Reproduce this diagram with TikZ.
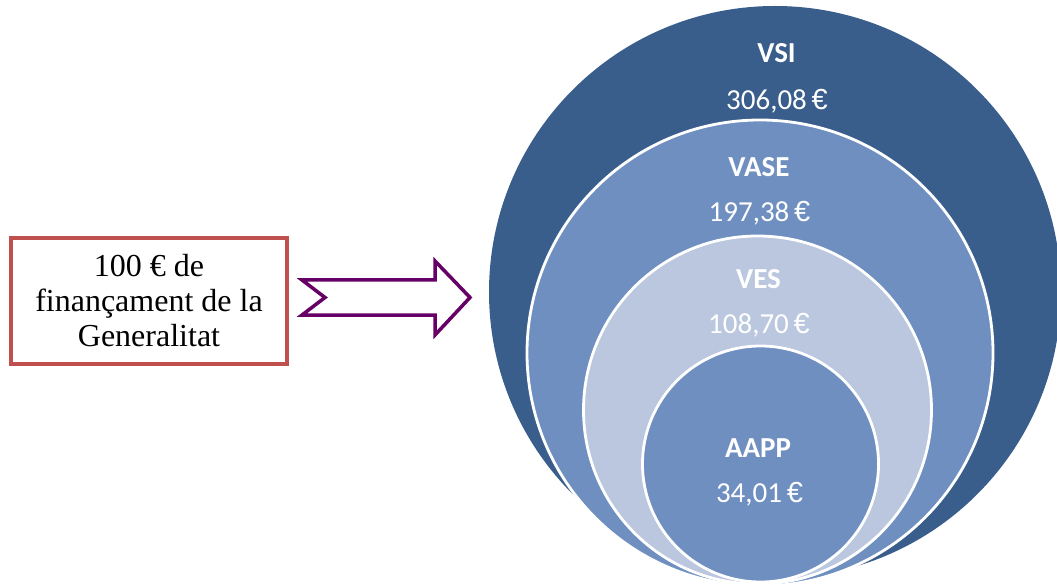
\documentclass[tikz,border=0pt]{standalone}
\usepackage{fontspec}
\setmainfont{Liberation Serif}
\newfontfamily\calibri{Carlito}
\newfontfamily\eurfont{Liberation Sans}
\newcommand\eur{{\eurfont €}}
\definecolor{vsiblue}{RGB}{58,94,140}
\definecolor{vaseblue}{RGB}{111,143,192}
\definecolor{vesblue}{RGB}{186,199,223}
\definecolor{boxred}{RGB}{192,80,77}
\definecolor{arrowpurple}{RGB}{102,0,102}

\begin{document}
\begin{tikzpicture}
  [x=1pt, y=-1pt,
   ring/.style={circle, draw=white, line width=2.8pt, inner sep=0pt},
   title/.style={font=\calibri\bfseries\fontsize{29}{29}\selectfont, text=white, inner sep=0pt, anchor=base},
   amount/.style={font=\calibri\fontsize{29}{29}\selectfont, text=white, inner sep=0pt, anchor=base}]
  \useasboundingbox (0,0) rectangle (1057,585);
  \clip (0,0) rectangle (1057,585);

  % nested circles
  \node (VSI) [ring, draw=none, fill=vsiblue, minimum size=572pt] at (775,292) {};
  \node (VASE) [ring, fill=vaseblue, minimum size=466pt] at (760,353) {};
  \node (VES) [ring, fill=vesblue, minimum size=348pt] at (757.5,410) {};
  \node (AAPP) [ring, fill=vaseblue, minimum size=236pt] at (760.5,464) {};

  \node (vsiname) [title] at (776.5,63) {VSI};
  \node (vsival) [amount] at (777,110) {306,08\,\eur};
  \node (vasename) [title] at (759,177) {VASE};
  \node (vaseval) [amount] at (759.5,222) {197,38\,\eur};
  \node (vesname) [title] at (758.5,289) {VES};
  \node (vesval) [amount] at (759,333) {108,70\,\eur};
  \node (aappname) [title] at (758,457) {AAPP};
  \node (aappval) [amount] at (759.5,502) {34,01\,\eur};

  % financing box and arrow
  \node (fin) [rectangle, draw=boxred, line width=4pt, minimum width=276pt, minimum height=126pt,
    align=center, font=\fontsize{32}{35}\selectfont, inner sep=0pt] at (149,301)
    {100 € de\\finançament de la\\Generalitat};
  \coordinate (shafttop) at ([xshift=13pt, yshift=21pt]fin.east);
  \draw[arrowpurple, line width=3.5pt, line join=miter]
    (shafttop) -- ++(133,0) -- ++(0,-19) -- ++(35,36.5) -- ++(-35,37.5)
    -- ++(0,-20) -- ++(-133,0) -- ++(23,-17.5) -- cycle;
\end{tikzpicture}
\end{document}
